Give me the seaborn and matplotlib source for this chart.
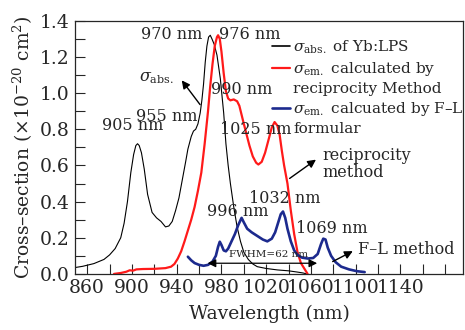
import pandas as pd
import matplotlib.pyplot as plt
import seaborn as sns
from matplotlib.lines import Line2D
from matplotlib.ticker import MultipleLocator

# absorption cross-section of Yb:LPS
abs_wl = [849, 856, 866, 875, 880, 885, 890, 893, 896, 899, 901.5, 903.5, 905, 906.5,
          908.5, 911, 914, 918, 922, 926, 930, 933, 936, 939, 942, 945, 948, 950, 953,
          955, 957, 959, 961, 962.5, 964, 965.5, 967, 968.5, 970, 971.5, 973.5, 976,
          979, 982, 984, 986, 988, 991, 994, 997, 1000, 1004, 1008, 1012, 1020, 1030,
          1040, 1048, 1053, 1056]
abs_cs = [0.035, 0.042, 0.057, 0.08, 0.105, 0.14, 0.2, 0.28, 0.40, 0.56, 0.66, 0.71,
          0.72, 0.71, 0.67, 0.58, 0.44, 0.34, 0.31, 0.29, 0.26, 0.265, 0.29, 0.35,
          0.42, 0.52, 0.62, 0.69, 0.76, 0.79, 0.80, 0.83, 0.89, 0.96, 1.05, 1.17,
          1.26, 1.31, 1.32, 1.30, 1.27, 1.21, 1.08, 0.89, 0.72, 0.60, 0.50, 0.37,
          0.26, 0.18, 0.12, 0.08, 0.055, 0.04, 0.03, 0.022, 0.017, 0.01, 0.005, 0.0]

# emission cross-section, reciprocity method
rec_wl = [884, 890, 895, 898, 901, 904, 910, 920, 930, 935, 938, 941, 944, 947, 950,
          953, 956, 959, 962, 965, 968, 970, 972, 974, 976, 977, 978.5, 980, 982,
          984, 986, 988, 991, 994, 996, 998, 1000, 1002.5, 1005, 1008, 1011, 1013,
          1016, 1019, 1022, 1025, 1027.5, 1030, 1032, 1034, 1036, 1039, 1042, 1045,
          1048, 1051, 1054, 1057]
rec_cs = [0.0, 0.005, 0.012, 0.02, 0.018, 0.025, 0.027, 0.028, 0.032, 0.04, 0.055,
          0.085, 0.125, 0.18, 0.24, 0.30, 0.37, 0.46, 0.56, 0.72, 0.90, 1.04, 1.16,
          1.26, 1.31, 1.32, 1.30, 1.23, 1.11, 1.01, 0.97, 0.96, 0.965, 0.955, 0.93,
          0.88, 0.83, 0.77, 0.71, 0.65, 0.615, 0.605, 0.62, 0.67, 0.74, 0.81, 0.84,
          0.82, 0.77, 0.68, 0.60, 0.50, 0.35, 0.22, 0.12, 0.06, 0.03, 0.0]

# emission cross-section, F-L formula
fl_wl = [950, 953, 956, 960, 964, 968, 972, 975, 977, 978.5, 980, 982, 984, 986, 989,
         992, 995, 998, 1000, 1003, 1007, 1012, 1017, 1021, 1025, 1028, 1031, 1033,
         1035, 1037, 1039, 1042, 1045, 1048, 1052, 1057, 1062, 1066, 1069, 1071,
         1073, 1075, 1078, 1082, 1087, 1094, 1101, 1108]
fl_cs = [0.095, 0.075, 0.06, 0.05, 0.045, 0.05, 0.068, 0.1, 0.15, 0.178, 0.16, 0.13,
         0.125, 0.14, 0.18, 0.22, 0.27, 0.31, 0.285, 0.25, 0.23, 0.21, 0.19, 0.18,
         0.195, 0.23, 0.29, 0.33, 0.345, 0.31, 0.25, 0.18, 0.13, 0.105, 0.09, 0.085,
         0.088, 0.11, 0.165, 0.195, 0.19, 0.145, 0.1, 0.065, 0.04, 0.025, 0.015, 0.01]

labels = [r'$\sigma_{\rm abs.}$ of Yb:LPS',
          r'$\sigma_{\rm em.}$ calculated by',
          'reciprocity Method',
          r'$\sigma_{\rm em.}$ calcuated by F–L',
          'formular']

sns.set_style('ticks')
plt.rcParams['font.family'] = ['DejaVu Serif']
plt.rcParams['mathtext.fontset'] = 'dejavuserif'

fig = plt.figure(figsize=(4.65, 3.3), dpi=100)
ax = fig.add_axes([0.161, 0.170, 0.835, 0.767])

sns.lineplot(x=abs_wl, y=abs_cs, ax=ax, color='black', linewidth=0.8, sort=False)
sns.lineplot(x=rec_wl, y=rec_cs, ax=ax, color='#ff1a1a', linewidth=1.6, sort=False)
sns.lineplot(x=fl_wl, y=fl_cs, ax=ax, color='#1c2a8e', linewidth=1.9, sort=False)

ax.set_xlim(849, 1196)
ax.set_ylim(0, 1.4)
ax.xaxis.set_minor_locator(MultipleLocator(20))
ax.yaxis.set_major_locator(MultipleLocator(0.2))
ax.yaxis.set_minor_locator(MultipleLocator(0.1))
ax.set_xticks(range(860, 1141, 40))
ax.yaxis.set_major_formatter(plt.FormatStrFormatter('%.1f'))
ax.tick_params(which='both', direction='in', length=7, width=0.8, labelsize=13.5,
               pad=4)
for s in ax.spines.values():
    s.set_linewidth(0.9)

ax.set_xlabel('Wavelength (nm)', fontsize=13.5, labelpad=5)
ax.set_ylabel('Cross–section (×10$^{-20}$ cm$^2$)', fontsize=13.5, labelpad=3)

# legend with continuation rows
handles = [Line2D([], [], color='black', lw=1.2),
           Line2D([], [], color='#ff1a1a', lw=1.6),
           Line2D([], [], color='none'),
           Line2D([], [], color='#1c2a8e', lw=1.9),
           Line2D([], [], color='none')]
ax.legend(handles, labels, loc='upper left', bbox_to_anchor=(0.508, 0.93),
          frameon=False, fontsize=11, handlelength=1.2, handletextpad=0.2,
          labelspacing=0.27, borderpad=0, borderaxespad=0)

fs = 11.5
ax.text(935.8, 1.326, '970 nm', fontsize=fs, ha='center', va='center')
ax.text(1005.6, 1.326, '976 nm', fontsize=fs, ha='center', va='center')
ax.text(931.3, 0.873, '955 nm', fontsize=fs, ha='center', va='center')
ax.text(900.4, 0.823, '905 nm', fontsize=fs, ha='center', va='center')
ax.text(998.5, 1.022, '990 nm', fontsize=fs, ha='center', va='center')
ax.text(1011, 0.796, '1025 nm', fontsize=fs, ha='center', va='center')
ax.text(1037, 0.417, '1032 nm', fontsize=fs, ha='center', va='center')
ax.text(994.9, 0.345, '996 nm', fontsize=fs, ha='center', va='center')
ax.text(1078.6, 0.251, '1069 nm', fontsize=fs, ha='center', va='center')

arrow = dict(arrowstyle='-|>', color='black', lw=1.0, mutation_scale=12)
ax.annotate(r'$\sigma_{\rm abs.}$', xy=(943, 1.083), xytext=(922.4, 1.088),
            fontsize=fs, ha='center', va='center')
ax.annotate('', xy=(943, 1.083), xytext=(962.4, 0.924), arrowprops=arrow)
ax.text(1070, 0.608, 'reciprocity\nmethod', fontsize=fs, ha='left', va='center',
        linespacing=1.05)
ax.annotate('', xy=(1066.5, 0.641), xytext=(1038.9, 0.519), arrowprops=arrow)
ax.text(1102.3, 0.133, 'F–L method', fontsize=fs, ha='left', va='center')
ax.annotate('', xy=(1099.6, 0.133), xytext=(1077.2, 0.061), arrowprops=arrow)

ax.annotate('', xy=(965.2, 0.059), xytext=(1068, 0.059),
            arrowprops=dict(arrowstyle='<|-|>', color='black', lw=0.9, mutation_scale=12))
ax.text(1021.7, 0.105, 'FWHM=62 nm', fontsize=7.5, ha='center', va='center')

fig.savefig('out.png', dpi=100)
